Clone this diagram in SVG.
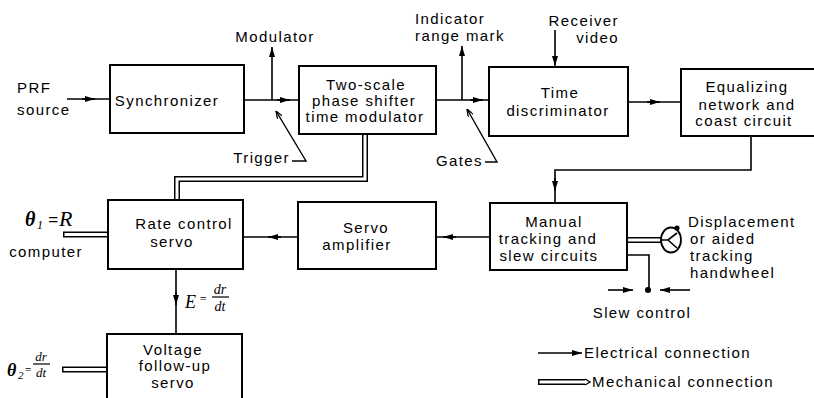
<svg xmlns="http://www.w3.org/2000/svg" width="814" height="398" viewBox="0 0 814 398">
<defs>
<marker id="ah" viewBox="0 0 10 6" refX="10" refY="3" markerWidth="11" markerHeight="6" orient="auto" markerUnits="userSpaceOnUse"><path d="M0,0 L10,3 L0,6 z" fill="#000"/></marker>
<marker id="lh" viewBox="0 0 8 6" refX="8" refY="3" markerWidth="8" markerHeight="6" orient="auto" markerUnits="userSpaceOnUse"><path d="M0,0 L8,3 L0,6" fill="none" stroke="#000" stroke-width="1.3"/></marker>
</defs>
<style>
.bx{fill:none;stroke:#000;stroke-width:2}
.ln{fill:none;stroke:#000;stroke-width:1.6}
.ar{fill:none;stroke:#000;stroke-width:1.6;marker-end:url(#ah)}
.ld{fill:none;stroke:#000;stroke-width:1.4;marker-end:url(#lh)}
.mo{fill:none;stroke:#000;stroke-width:6}
.mi{fill:none;stroke:#fff;stroke-width:3}
.t{font-family:"Liberation Sans",Arial,sans-serif;font-size:15px;letter-spacing:1.4px;fill:#000}
.c{text-anchor:middle}
.e{text-anchor:end}
.m{font-family:"Liberation Serif","Times New Roman",serif;font-style:italic;fill:#000}
</style>
<rect width="814" height="398" fill="#fff"/>

<g id="connectors">
  <!-- electrical lines -->
  <path class="ln" d="M67,99 H110"/>
  <path class="ar" d="M82,99 H95"/>
  <path class="ln" d="M244,100 H299"/>
  <path class="ar" d="M277,100 H290"/>
  <path class="ar" d="M272,100 V47"/>
  <path class="ln" d="M436,100 H489"/>
  <path class="ar" d="M470,100 H483"/>
  <path class="ar" d="M462,100 V46"/>
  <path class="ar" d="M555,30 V66"/>
  <path class="ln" d="M628,102 H681"/>
  <path class="ar" d="M647,102 H660"/>
  <path class="ln" d="M751,136 V170 H555 V203"/>
  <path class="ar" d="M555,178 V191"/>
  <path class="ln" d="M490,237 H436"/>
  <path class="ar" d="M456,237 H443"/>
  <path class="ln" d="M298,237 H243"/>
  <path class="ar" d="M281,237 H268"/>
  <path class="ln" d="M176,269 V334"/>
  <path class="ar" d="M176,292 V305"/>
  <path class="ln" d="M627,255 H649 V290"/>
  <circle cx="648" cy="290" r="3" fill="#000"/>
  <path class="ar" d="M608,290 H633"/>
  <path class="ar" d="M690,290 H660"/>
  <!-- leaders -->
  <path class="ld" d="M292,161 H306 L276,111"/>
  <path class="ld" d="M485,162 H497 L467,109"/>
  <!-- mechanical connections -->
  <path class="mo" d="M365,134 V179 H177 V200"/>
  <path class="mi" d="M365,134 V179 H177 V200"/>
  <path class="mo" d="M63,234.5 H108"/>
  <path class="mi" d="M64.5,234.5 H108"/>
  <path class="mo" d="M62,369.5 H108"/>
  <path class="mi" d="M63.5,369.5 H108"/>
  <path class="mo" d="M627,240 H663"/>
  <path class="mi" d="M627,240 H663"/>
</g>

<g id="prf-source">
  <text class="t" x="17" y="93">PRF</text>
  <text class="t" x="17" y="115">source</text>
</g>
<g id="synchronizer">
  <rect class="bx" x="110" y="65" width="134" height="68"/>
  <text class="t c" x="167" y="106">Synchronizer</text>
</g>
<g id="modulator-label">
  <text class="t c" x="275" y="42">Modulator</text>
</g>
<g id="trigger-label">
  <text class="t e" x="290" y="163">Trigger</text>
</g>
<g id="two-scale">
  <rect class="bx" x="299" y="66" width="137" height="68"/>
  <text class="t c" x="366" y="90">Two-scale</text>
  <text class="t c" x="364" y="106">phase shifter</text>
  <text class="t c" x="365" y="122">time modulator</text>
</g>
<g id="indicator-label">
  <text class="t" x="415" y="24">Indicator</text>
  <text class="t" x="415" y="41">range mark</text>
</g>
<g id="gates-label">
  <text class="t e" x="483" y="166">Gates</text>
</g>
<g id="receiver-label">
  <text class="t e" x="619" y="26">Receiver</text>
  <text class="t e" x="619" y="43">video</text>
</g>
<g id="time-discriminator">
  <rect class="bx" x="489" y="67" width="139" height="69"/>
  <text class="t c" x="560" y="98">Time</text>
  <text class="t c" x="558" y="116">discriminator</text>
</g>
<g id="equalizing">
  <rect class="bx" x="681" y="69" width="150" height="67"/>
  <text class="t c" x="747" y="92">Equalizing</text>
  <text class="t c" x="747" y="110">network and</text>
  <text class="t c" x="744" y="126">coast circuit</text>
</g>
<g id="manual-tracking">
  <rect class="bx" x="490" y="203" width="137" height="67"/>
  <text class="t c" x="554" y="227">Manual</text>
  <text class="t c" x="548" y="244">tracking and</text>
  <text class="t c" x="549" y="261">slew circuits</text>
</g>
<g id="servo-amplifier">
  <rect class="bx" x="298" y="202" width="138" height="67"/>
  <text class="t c" x="366" y="233">Servo</text>
  <text class="t c" x="357" y="250">amplifier</text>
</g>
<g id="rate-control">
  <rect class="bx" x="108" y="200" width="135" height="69"/>
  <text class="t c" x="184" y="229">Rate control</text>
  <text class="t c" x="172" y="247">servo</text>
</g>
<g id="theta1-label">
  <text class="m" x="25" y="226" font-size="20" font-weight="bold">θ</text>
  <text class="m" x="37" y="229" font-size="12" font-style="normal">1</text>
  <text class="m" x="48" y="226" font-size="18" font-style="normal" font-weight="bold">=</text>
  <text class="m" x="59" y="226" font-size="22">R</text>
  <text class="t c" x="46" y="257">computer</text>
</g>
<g id="e-label">
  <text class="m" x="185" y="308" font-size="18">E</text>
  <text class="m" x="199" y="303" font-size="12" font-style="normal">=</text>
  <text class="m" x="220" y="294" font-size="14" text-anchor="middle">dr</text>
  <line x1="212" y1="297" x2="229" y2="297" stroke="#000" stroke-width="1.2"/>
  <text class="m" x="220" y="311" font-size="14" text-anchor="middle">dt</text>
</g>
<g id="voltage-servo">
  <rect class="bx" x="107" y="334" width="135" height="70"/>
  <text class="t c" x="173" y="355">Voltage</text>
  <text class="t c" x="175" y="371">follow-up</text>
  <text class="t c" x="173" y="388">servo</text>
</g>
<g id="theta2-label">
  <text class="m" x="7" y="376" font-size="18" font-weight="bold">θ</text>
  <text class="m" x="18" y="379" font-size="11" font-style="normal">2</text>
  <text class="m" x="25" y="373" font-size="11" font-style="normal" font-weight="bold">=</text>
  <text class="m" x="41" y="361" font-size="13" text-anchor="middle">dr</text>
  <line x1="33" y1="364" x2="50" y2="364" stroke="#000" stroke-width="1.2"/>
  <text class="m" x="41" y="377" font-size="13" text-anchor="middle">dt</text>
</g>
<g id="handwheel">
  <ellipse cx="671" cy="240" rx="10" ry="12.5" fill="#fff" stroke="#000" stroke-width="1.8"/>
  <path class="ln" d="M661,240 H668 L677,233 M668,240 L677,248" stroke-width="1.4"/>
  <circle cx="677" cy="228" r="2.6" fill="#000"/>
  <text class="t" x="688" y="227">Displacement</text>
  <text class="t" x="690" y="244">or aided</text>
  <text class="t" x="690" y="261">tracking</text>
  <text class="t" x="690" y="278">handwheel</text>
</g>
<g id="slew-control">
  <text class="t c" x="642" y="318">Slew control</text>
</g>
<g id="legend">
  <path class="ar" d="M538,353 H582"/>
  <text class="t" x="584" y="358">Electrical connection</text>
  <path class="mo" d="M538,382 H585"/>
  <path class="mi" d="M539.5,382 H585"/>
  <path d="M585,379 L590,382 L585,385" fill="none" stroke="#000" stroke-width="1.4"/>
  <text class="t" x="592" y="387">Mechanical connection</text>
</g>
</svg>
